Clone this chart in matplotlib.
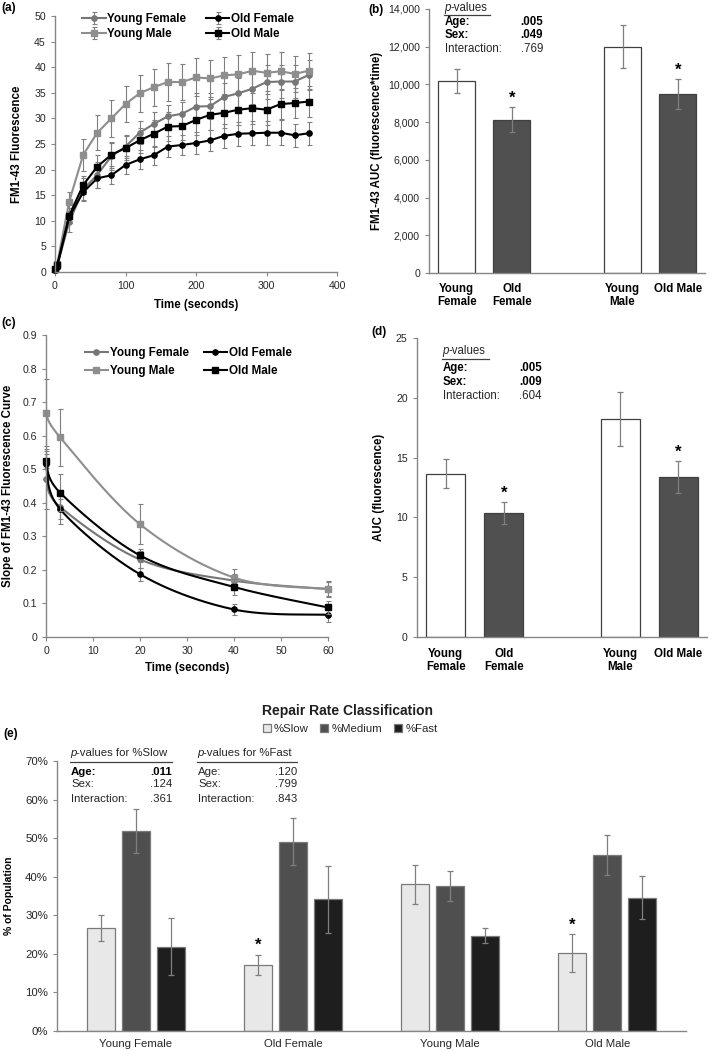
import numpy as np
import matplotlib
matplotlib.use("Agg")
import matplotlib.pyplot as plt
from matplotlib import font_manager
from matplotlib.lines import Line2D
from matplotlib.ticker import FuncFormatter, MultipleLocator

plt.rcParams['font.family'] = ['Liberation Sans', 'DejaVu Sans']
_names = {f.name for f in font_manager.fontManager.ttflist}
NARROW = 'Liberation Sans Narrow' in _names
EFAM = ['Liberation Sans Narrow', 'Liberation Sans', 'DejaVu Sans'] if NARROW else ['Liberation Sans', 'DejaVu Sans']
EFS = 9.5 if NARROW else 8.2

# ---------------- data ----------------
# (a) FM1-43 fluorescence over time
time_a = [0, 3, 20, 40, 60, 80, 100, 120, 140, 160, 180, 200, 220, 240, 260, 280, 300, 320, 340, 360]
yf_a = [0.3, 1.2, 9.7, 16.1, 19.0, 22.6, 24.5, 27.2, 28.9, 30.4, 30.9, 32.3, 32.4, 34.2, 34.9, 35.8, 37.1, 37.2, 37.2, 38.5]
yf_a_err = [0.3, 0.5, 1.8, 2.2, 2.5, 2.6, 2.2, 2.2, 2.4, 2.3, 2.4, 2.6, 2.6, 2.7, 3.0, 3.0, 3.3, 3.3, 3.3, 3.0]
of_a = [0.3, 1.0, 10.7, 15.6, 18.3, 18.9, 20.9, 22.0, 22.8, 24.5, 24.8, 25.2, 25.7, 26.6, 27.0, 27.1, 27.2, 27.2, 26.7, 27.1]
of_a_err = [0.3, 0.5, 1.2, 1.5, 1.8, 1.8, 1.8, 1.8, 1.9, 2.0, 2.0, 2.1, 2.1, 2.3, 2.3, 2.3, 2.3, 2.4, 2.2, 2.2]
ym_a = [0.5, 1.5, 13.7, 22.9, 27.2, 30.0, 32.8, 34.9, 36.1, 37.1, 37.1, 38.0, 37.8, 38.4, 38.6, 39.3, 38.9, 39.2, 38.7, 39.3]
ym_a_err = [0.4, 0.6, 2.0, 3.1, 3.4, 3.6, 3.5, 3.6, 3.6, 3.7, 3.5, 3.7, 3.6, 3.6, 3.7, 3.7, 3.6, 3.7, 3.5, 3.5]
om_a = [0.5, 1.3, 11.0, 17.0, 20.6, 22.9, 24.2, 25.7, 27.0, 28.4, 28.5, 29.7, 30.7, 31.1, 31.7, 32.0, 31.7, 32.8, 33.0, 33.3]
om_a_err = [0.4, 0.6, 1.5, 1.8, 2.3, 2.5, 2.3, 2.5, 2.6, 2.8, 2.7, 2.9, 3.0, 3.0, 3.0, 3.0, 3.0, 3.0, 3.0, 3.0]

groups = ['Young Female', 'Old Female', 'Young Male', 'Old Male']
group_ticklabels = ['Young\nFemale', 'Old\nFemale', 'Young\nMale', 'Old Male']

# (b) AUC fluorescence*time
auc_b = [10170, 8140, 12010, 9490]
auc_b_err = [650, 680, 1130, 815]

# (c) slope of fluorescence curve
time_c = [0, 3, 20, 40, 60]
yf_c = [0.470, 0.388, 0.231, 0.168, 0.143]
yf_c_err = [0.09, 0.05, 0.025, 0.02, 0.02]
of_c = [0.515, 0.381, 0.187, 0.082, 0.066]
of_c_err = [0.04, 0.03, 0.02, 0.015, 0.02]
ym_c = [0.668, 0.595, 0.336, 0.177, 0.143]
ym_c_err = [0.10, 0.085, 0.06, 0.025, 0.025]
om_c = [0.525, 0.430, 0.243, 0.149, 0.088]
om_c_err = [0.02, 0.055, 0.02, 0.023, 0.02]

# (d) AUC fluorescence
auc_d = [13.66, 10.34, 18.21, 13.38]
auc_d_err = [1.2, 0.93, 2.26, 1.33]

# (e) repair rate classification (%)
rate_labels = ['%Slow', '%Medium', '%Fast']
slow_e = [26.8, 17.1, 38.0, 20.2]
slow_e_err = [3.4, 2.7, 5.0, 5.0]
medium_e = [51.8, 49.1, 37.6, 45.6]
medium_e_err = [5.7, 6.1, 3.9, 5.1]
fast_e = [21.8, 34.1, 24.7, 34.6]
fast_e_err = [7.4, 8.6, 2.0, 5.6]

pv_b = [('Age:', '.005', True), ('Sex:', '.049', True), ('Interaction:', '.769', False)]
pv_d = [('Age:', '.005', True), ('Sex:', '.009', True), ('Interaction:', '.604', False)]
pv_e_slow = [('Age:', '.011', True), ('Sex:', '.124', False), ('Interaction:', '.361', False)]
pv_e_fast = [('Age:', '.120', False), ('Sex:', '.799', False), ('Interaction:', '.843', False)]

# ---------------- styling ----------------
W, H = 709, 1051
fig = plt.figure(figsize=(W / 100, H / 100), dpi=100)
TXT = '#262626'
SPINE = '#868686'
ERRC = '#7f7f7f'
C_YF = '#767676'
C_YM = '#8e8e8e'
C_OLD = '#000000'
TICKFS = 7.6
LABFS = 8.3


def axes_px(l, r, t, b):
    return fig.add_axes([l / W, 1 - b / H, (r - l) / W, (b - t) / H])


def style_axes(ax, xticks_on=True):
    for s in ['top', 'right']:
        ax.spines[s].set_visible(False)
    for s in ['left', 'bottom']:
        ax.spines[s].set_color(SPINE)
        ax.spines[s].set_linewidth(1.0)
    ax.tick_params(axis='both', colors=SPINE, labelcolor=TXT, labelsize=TICKFS, length=3, width=0.8)
    if not xticks_on:
        ax.tick_params(axis='x', length=0)


def ftext(x, y, s, **kw):
    return fig.text(x / W, 1 - y / H, s, **kw)


def pvalue_block(x0, xr, y_head, y_line, x_line1, rows, head_rest, fs, family, dy):
    r = fig.canvas.get_renderer()
    t1 = ftext(x0, y_head, 'p', style='italic', fontsize=fs, family=family, color=TXT, ha='left', va='center')
    bb = t1.get_window_extent(renderer=r)
    ftext(bb.x1, y_head, head_rest, fontsize=fs, family=family, color=TXT, ha='left', va='center')
    fig.add_artist(Line2D([x0 / W, x_line1 / W], [1 - y_line / H] * 2, transform=fig.transFigure,
                         color='#404040', lw=0.9))
    for i, (lab, val, bold) in enumerate(rows):
        yy = y_line + dy[i]
        w = 'bold' if bold else 'normal'
        ftext(x0 + 1, yy, lab, fontsize=fs, family=family, color=TXT if not bold else '#000000',
              fontweight=w, ha='left', va='center')
        ftext(xr, yy, val, fontsize=fs, family=family, color=TXT if not bold else '#000000',
              fontweight=w, ha='right', va='center')


def smooth_curve(ax, x, y, n=40):
    pts = ax.transData.transform(np.column_stack([x, y]))
    P = np.vstack([pts[0], pts, pts[-1]])
    out = []
    t = np.linspace(0, 1, n)[:, None]
    for i in range(1, len(P) - 2):
        p0, p1, p2, p3 = P[i - 1], P[i], P[i + 1], P[i + 2]
        c1 = p1 + (p2 - p0) / 6.0
        c2 = p2 - (p3 - p1) / 6.0
        b = (1 - t) ** 3 * p1 + 3 * (1 - t) ** 2 * t * c1 + 3 * (1 - t) * t ** 2 * c2 + t ** 3 * p2
        out.append(b)
    pix = np.vstack(out)
    d = ax.transData.inverted().transform(pix)
    return d[:, 0], d[:, 1]


# ---------------- panel (a) ----------------
axa = axes_px(55, 337, 16, 272)
style_axes(axa)
axa.set_xlim(0, 400)
axa.set_ylim(0, 50)
axa.xaxis.set_major_locator(MultipleLocator(100))
axa.yaxis.set_major_locator(MultipleLocator(5))
series_a = [('Young Female', yf_a, yf_a_err, C_YF, 'o'),
            ('Young Male', ym_a, ym_a_err, C_YM, 's'),
            ('Old Female', of_a, of_a_err, C_OLD, 'o'),
            ('Old Male', om_a, om_a_err, C_OLD, 's')]
for lab, yv, ye, col, mk in series_a:
    axa.errorbar(time_a, yv, yerr=ye, color=col, ecolor=ERRC, elinewidth=0.8, capsize=1.8, capthick=0.8,
                 marker=mk, markersize=3.8, lw=1.5, label=lab, clip_on=False)
axa.set_xlabel('Time (seconds)', fontsize=LABFS, fontweight='bold', color='#000000', labelpad=6)
axa.set_ylabel('FM1-43 Fluorescence', fontsize=LABFS, fontweight='bold', color='#000000', labelpad=8)
h, l = axa.get_legend_handles_labels()
axa.legend(h, l, ncol=2, loc='upper left', bbox_to_anchor=(0.08, 1.03), frameon=False,
           prop={'weight': 'bold', 'size': 8.4}, handlelength=2.0, handletextpad=0.15,
           columnspacing=1.7, labelspacing=0.25, borderaxespad=0)

# ---------------- panel (b) ----------------
pos = [0, 1, 3, 4]
bar_face = ['#ffffff', '#505050', '#ffffff', '#505050']
axb = axes_px(429, 705.5, 9, 273)
style_axes(axb, xticks_on=False)
axb.bar(pos, auc_b, width=0.67, color=bar_face, edgecolor='#404040', linewidth=0.9)
axb.errorbar(pos, auc_b, yerr=auc_b_err, fmt='none', ecolor=ERRC, elinewidth=0.9, capsize=2.2, capthick=0.9)
axb.set_xlim(-0.5, 4.5)
axb.set_ylim(0, 14000)
axb.yaxis.set_major_locator(MultipleLocator(2000))
axb.yaxis.set_major_formatter(FuncFormatter(lambda v, p: f'{int(v):,}'))
axb.set_xticks(pos)
axb.set_xticklabels(group_ticklabels, fontsize=LABFS, fontweight='bold', color='#000000', linespacing=1.1)
axb.tick_params(axis='x', pad=7)
axb.set_ylabel('FM1-43 AUC (fluorescence*time)', fontsize=LABFS, fontweight='bold', color='#000000', labelpad=4)
for i in [1, 3]:
    axb.annotate('*', (pos[i], auc_b[i] + auc_b_err[i]), xytext=(0, 1), textcoords='offset points',
                 ha='center', va='bottom', fontsize=12, fontweight='bold')

# ---------------- panel (c) ----------------
axc = axes_px(46, 328, 335, 637)
style_axes(axc)
axc.set_xlim(0, 60)
axc.set_ylim(0, 0.9)
axc.xaxis.set_major_locator(MultipleLocator(10))
axc.yaxis.set_major_locator(MultipleLocator(0.1))
axc.yaxis.set_major_formatter(FuncFormatter(lambda v, p: '0' if abs(v) < 1e-9 else f'{v:.1f}'))
series_c = [('Young Female', yf_c, yf_c_err, C_YF, 'o'),
            ('Young Male', ym_c, ym_c_err, C_YM, 's'),
            ('Old Female', of_c, of_c_err, C_OLD, 'o'),
            ('Old Male', om_c, om_c_err, C_OLD, 's')]
handles_c = []
for lab, yv, ye, col, mk in series_c:
    axc.errorbar(time_c, yv, yerr=ye, fmt='none', ecolor=ERRC, elinewidth=0.8, capsize=1.8, capthick=0.8,
                 clip_on=False)
    sx, sy = smooth_curve(axc, time_c, yv)
    axc.plot(sx, sy, color=col, lw=1.5, clip_on=False)
    axc.plot(time_c, yv, ls='none', marker=mk, color=col, markersize=3.8, clip_on=False)
    handles_c.append(Line2D([], [], color=col, lw=1.5, marker=mk, markersize=3.8, label=lab))
axc.set_xlabel('Time (seconds)', fontsize=LABFS, fontweight='bold', color='#000000', labelpad=4)
axc.set_ylabel('Slope of FM1-43 Fluorescence Curve', fontsize=LABFS, fontweight='bold', color='#000000', labelpad=6)
axc.legend(handles=handles_c, ncol=2, loc='upper left', bbox_to_anchor=(0.12, 0.975), frameon=False,
           prop={'weight': 'bold', 'size': 8.4}, handlelength=2.0, handletextpad=0.15,
           columnspacing=1.3, labelspacing=0.5, borderaxespad=0)

# ---------------- panel (d) ----------------
axd = axes_px(416.7, 707.5, 338, 637)
style_axes(axd, xticks_on=False)
axd.bar(pos, auc_d, width=0.67, color=bar_face, edgecolor='#404040', linewidth=0.9)
axd.errorbar(pos, auc_d, yerr=auc_d_err, fmt='none', ecolor=ERRC, elinewidth=0.9, capsize=2.2, capthick=0.9)
axd.set_xlim(-0.5, 4.5)
axd.set_ylim(0, 25)
axd.yaxis.set_major_locator(MultipleLocator(5))
axd.set_xticks(pos)
axd.set_xticklabels(group_ticklabels, fontsize=LABFS, fontweight='bold', color='#000000', linespacing=1.1)
axd.tick_params(axis='x', pad=8)
axd.set_ylabel('AUC (fluorescence)', fontsize=LABFS, fontweight='bold', color='#000000', labelpad=8)
for i in [1, 3]:
    axd.annotate('*', (pos[i], auc_d[i] + auc_d_err[i]), xytext=(0, 1), textcoords='offset points',
                 ha='center', va='bottom', fontsize=12, fontweight='bold')

# ---------------- panel (e) ----------------
axe = axes_px(57, 686, 761, 1031)
style_axes(axe, xticks_on=False)
xg = np.arange(len(groups))
bw = 0.178
off = 0.223
e_faces = ['#e8e8e8', '#4f4f4f', '#1e1e1e']
e_vals = [slow_e, medium_e, fast_e]
e_errs = [slow_e_err, medium_e_err, fast_e_err]
for k in range(3):
    xx = xg + (k - 1) * off
    axe.bar(xx, e_vals[k], width=bw, color=e_faces[k], edgecolor='#7a7a7a', linewidth=0.9, label=rate_labels[k])
    axe.errorbar(xx, e_vals[k], yerr=e_errs[k], fmt='none', ecolor=ERRC, elinewidth=0.9, capsize=2.0, capthick=0.9)
axe.set_xlim(-0.5, 3.5)
axe.set_ylim(0, 70)
axe.yaxis.set_major_locator(MultipleLocator(10))
axe.yaxis.set_major_formatter(FuncFormatter(lambda v, p: f'{int(round(v))}%'))
axe.set_xticks(xg)
axe.set_xticklabels(groups, fontsize=EFS, family=EFAM, color=TXT)
for tl in axe.get_yticklabels():
    tl.set_fontsize(EFS)
    tl.set_family(EFAM)
axe.tick_params(axis='x', pad=6)
axe.set_ylabel('% of Population', fontsize=7.5, fontweight='bold', color='#000000', labelpad=8)
for i in [1, 3]:
    xs = xg[i] - off
    axe.annotate('*', (xs, slow_e[i] + slow_e_err[i]), xytext=(0, 1), textcoords='offset points',
                 ha='center', va='bottom', fontsize=12, fontweight='bold')
axe.legend(ncol=3, loc='center', bbox_to_anchor=((350 - 57) / 629, 1 + (761 - 729) / 270), frameon=False,
           prop={'family': EFAM, 'size': EFS}, handlelength=0.7, handleheight=0.7, handletextpad=0.3,
           columnspacing=1.0, borderaxespad=0, labelcolor=TXT)
ftext(347, 711, 'Repair Rate Classification', fontsize=10, fontweight='bold', ha='center', va='center',
      color='#202020')

# ---------------- panel labels ----------------
for s, x, y in [('(a)', 1, 8), ('(b)', 368, 10), ('(c)', 1, 323), ('(d)', 371, 332), ('(e)', 3, 734)]:
    ftext(x, y, s, fontsize=8.5, fontweight='bold', ha='left', va='center', color='#000000')

# ---------------- p-value blocks ----------------
fig.canvas.draw()
pvalue_block(444, 543, 8, 14.5, 490, pv_b, '-values', 8.3, ['Liberation Sans', 'DejaVu Sans'], [7.5, 20.5, 34.5])
pvalue_block(442, 542, 351, 359, 489, pv_d, '-values', 8.3, ['Liberation Sans', 'DejaVu Sans'], [9, 23, 37])
pvalue_block(70, 172, 753, 762, 172, pv_e_slow, '-values for %Slow', EFS, EFAM, [10, 22, 37])
pvalue_block(197, 297, 753, 762, 297, pv_e_fast, '-values for %Fast', EFS, EFAM, [10, 22, 37])

fig.savefig('out.png', dpi=100)
